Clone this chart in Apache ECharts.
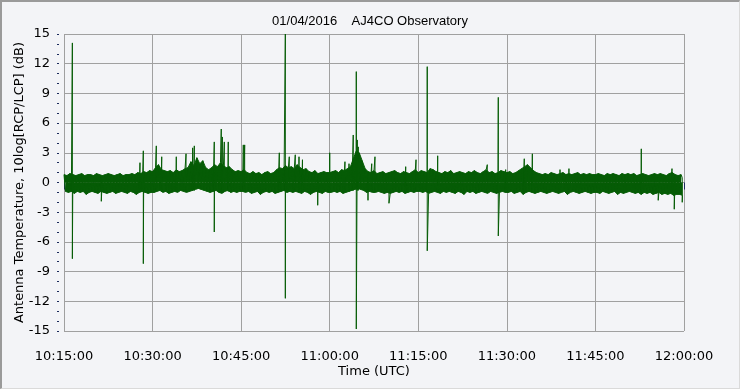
<!DOCTYPE html>
<html>
<head>
<meta charset="utf-8">
<script src="https://cdn.jsdelivr.net/npm/echarts@6/dist/echarts.min.js"></script>
<style>
html,body{margin:0;padding:0;background:#f3f4f7;}
#frame{position:absolute;left:0;top:0;width:740px;height:389px;box-sizing:border-box;border-top:2px solid #9a9a9a;border-left:2px solid #9a9a9a;border-right:1px solid #dadada;border-bottom:1px solid #dadada;}
#chart{position:absolute;left:0;top:0;width:740px;height:389px;}
</style>
</head>
<body>
<div id="frame"></div>
<div id="chart"></div>
<script>
// Title and axis texts
const titleText = '01/04/2016    AJ4CO Observatory';
const yName = 'Antenna Temperature, 10log[RCP/LCP] (dB)';
const xName = 'Time (UTC)';

// Time range (seconds since midnight UTC) and tick step
const startTime = '10:15:00';
const endTime = '12:00:00';
const tickStepSec = 900;
const bandStepSec = 30;

// Noise band envelope: upper and lower edge every 30 s (dB)
const bandHigh = [
  0.8,0.7,0.9,0.8,0.7,0.8,0.9,0.7,0.8,0.8,0.7,0.9,0.8,0.7,0.8,0.9,0.8,0.7,0.8,0.9,0.7,0.8,0.8,0.9,0.8,1.0,0.9,1.1,1.0,1.2,
  1.1,1.5,1.8,1.3,1.2,1.1,1.2,1.0,1.3,1.1,1.2,1.4,1.5,2.1,1.7,2.5,1.9,2.2,1.5,1.3,1.5,1.8,1.6,2.0,1.7,1.5,1.6,1.3,1.1,1.2,
  1.1,1.3,1.0,0.9,1.1,0.9,1.0,0.8,1.0,1.1,0.9,1.0,1.3,1.5,1.4,1.7,1.5,1.6,1.4,1.8,1.5,1.3,1.4,1.1,1.0,1.2,0.9,1.0,1.1,1.0,
  1.0,1.1,1.2,1.0,1.3,1.2,1.4,1.6,2.4,3.2,3.0,2.2,1.4,1.1,1.0,1.2,0.9,1.0,1.1,0.9,1.0,1.1,1.2,1.0,0.9,1.1,1.0,0.9,1.1,1.3,
  1.0,1.2,1.1,1.0,1.4,1.3,1.1,1.0,0.9,1.1,1.0,1.2,0.9,1.0,1.1,1.0,0.9,1.1,1.0,1.2,1.0,0.9,1.1,1.3,1.0,1.1,0.9,1.0,1.2,1.1,
  1.0,1.1,0.9,1.0,1.2,1.4,1.6,1.8,1.5,1.2,1.0,0.9,0.8,0.9,0.8,1.0,0.9,0.8,0.9,1.0,0.8,0.9,0.8,0.9,1.0,0.8,0.9,0.8,0.9,0.8,
  0.8,0.9,0.8,0.7,0.9,0.8,0.9,0.8,0.7,0.9,0.8,0.9,0.8,0.9,0.7,0.8,0.9,0.8,0.7,0.8,0.9,0.8,0.9,0.8,0.7,0.9,1.0,0.8,0.7,0.8
];
const bandLow = [
  -0.9,-1.0,-0.9,-1.1,-0.9,-1.0,-0.9,-1.2,-1.0,-0.9,-1.0,-1.1,-0.9,-1.0,-1.1,-1.0,-0.9,-1.1,-1.0,-0.9,-1.0,-1.1,-0.9,-1.0,-1.2,-1.0,-0.9,-1.0,-1.1,-1.0,
  -1.0,-0.9,-0.8,-1.0,-0.9,-1.1,-1.0,-0.9,-1.0,-0.8,-0.9,-1.0,-0.9,-0.8,-0.7,-0.6,-0.7,-0.8,-0.9,-1.0,-0.9,-0.8,-1.0,-1.1,-0.9,-0.8,-1.0,-0.9,-1.0,-0.9,
  -0.9,-1.0,-0.9,-1.1,-1.0,-0.9,-1.2,-1.0,-0.9,-1.0,-0.9,-1.1,-1.0,-0.9,-0.8,-1.0,-0.9,-1.0,-0.9,-1.0,-1.1,-0.9,-1.0,-1.2,-1.0,-0.9,-1.0,-1.1,-0.9,-1.0,
  -1.0,-0.9,-1.0,-0.9,-1.1,-1.0,-0.9,-0.8,-0.7,-0.6,-0.7,-0.8,-1.0,-0.9,-1.0,-1.0,-0.9,-1.0,-1.1,-1.0,-1.1,-1.0,-0.9,-1.0,-0.9,-1.1,-1.0,-0.9,-1.0,-0.9,
  -0.9,-1.0,-0.9,-1.1,-1.0,-0.9,-1.0,-1.1,-0.9,-1.0,-0.9,-1.0,-1.1,-0.9,-1.0,-1.2,-0.9,-1.0,-0.9,-1.1,-1.0,-0.9,-1.0,-1.1,-0.9,-1.0,-1.1,-1.0,-0.9,-1.0,
  -1.0,-0.9,-1.1,-1.0,-0.9,-1.2,-1.0,-0.9,-1.0,-1.1,-1.0,-0.9,-1.0,-1.1,-1.0,-0.9,-1.0,-1.1,-1.0,-0.9,-1.2,-1.0,-0.9,-1.0,-1.1,-1.0,-0.9,-1.0,-1.1,-1.0,
  -1.0,-1.1,-0.9,-1.0,-1.1,-1.0,-0.9,-1.2,-1.0,-1.1,-1.0,-0.9,-1.0,-1.1,-1.0,-1.2,-1.0,-1.1,-1.0,-1.2,-1.1,-1.0,-1.2,-1.1,-1.2,-1.1,-1.3,-1.2,-1.2,-1.3
];

// Individual spikes: time, peak (dB), trough (dB)
const spikeTimes = ['10:16:25','10:21:19','10:27:52','10:28:26','10:30:38','10:31:33','10:34:01','10:35:40','10:36:47','10:37:04','10:40:27','10:41:38','10:41:49','10:42:09','10:42:49','10:45:22','10:45:36','10:51:28','10:52:29','10:53:09','10:54:10','10:54:48','10:55:23','10:57:58','11:00:00','11:02:35','11:03:16','11:03:59','11:04:30','11:04:40','11:04:50','11:06:29','11:07:07','11:07:40','11:10:02','11:12:52','11:14:37','11:16:31','11:18:17','11:26:41','11:28:33','11:29:48','11:32:57','11:34:19','11:39:00','11:40:31','11:52:46','11:55:38','11:57:58','11:58:21','11:59:42'];
const spikeHigh  = [14.1, 0.5, 2.0, 3.2, 3.7, 2.6, 2.6, 2.9, 3.5, 3.7, 4.1, 5.4, 4.6, 4.1, 4.1, 3.8, 3.8, 3.0, 15.0, 2.6, 2.8, 2.6, 2.3, 0.5, 3.0, 2.1, 1.9, 4.8, 11.2, 4.3, 3.6, 0.5, 1.9, 2.6, 0.5, 1.6, 2.3, 11.7, 2.7, 1.8, 8.6, 1.3, 2.4, 2.9, 1.3, 1.4, 3.4, 0.5, 1.4, 0.5, 0.5];
const spikeLow   = [-7.7,-1.9,-0.9,-8.2,-0.8,-0.9,-0.9,-0.9,-0.8,-0.8,-5.0,-0.9,-0.9,-0.9,-0.9,-0.9,-0.9,-0.9,-11.7,-0.9,-0.9,-0.9,-0.9,-2.3,-0.9,-0.9,-0.9,-0.8,-14.8,-0.8,-0.8,-1.8,-0.9,-0.9,-2.1,-0.9,-0.9,-6.9,-0.9,-0.9,-5.4,-0.9,-0.9,-0.9,-0.9,-0.9,-0.9,-1.8,-0.9,-2.7,-2.0];

// Y axis range
const yMin = -15, yMax = 15, yStep = 3;

function toSec(s){const p=s.split(':').map(Number);return p[0]*3600+p[1]*60+p[2];}
function pad(n){return (n<10?'0':'')+n;}
function fmt(v){const h=Math.floor(v/3600),m=Math.floor((v%3600)/60),s=Math.round(v%60);return pad(h)+':'+pad(m)+':'+pad(s);}

const t0 = toSec(startTime), t1 = toSec(endTime);
const color = '#065c06';

// zig-zag trace through the band envelope plus the spikes
const pts = [];
for (let i=0;i<bandHigh.length;i++){
  const t = t0 + i*bandStepSec;
  pts.push([t, bandHigh[i]]);
  pts.push([t + bandStepSec/2, bandLow[i]]);
}
for (let i=0;i<spikeTimes.length;i++){
  const t = toSec(spikeTimes[i]);
  pts.push([t+0.001, spikeHigh[i]]);
  pts.push([t+0.002, spikeLow[i]]);
}
pts.sort((a,b)=>a[0]-b[0]);

// filled band: upper envelope filled down to 0, lower envelope filled up to 0
const hiData = [], loData = [];
for (let i=0;i<bandHigh.length;i++){
  hiData.push([t0 + i*bandStepSec, bandHigh[i]]);
  loData.push([t0 + i*bandStepSec + bandStepSec/2, bandLow[i]]);
}

const chart = echarts.init(document.getElementById('chart'), null, {renderer:'canvas'});
const axisFont = {fontFamily:'DejaVu Sans', fontSize:13, color:'#000'};
chart.setOption({
  animation:false,
  backgroundColor:'transparent',
  title:{text:titleText,left:'center',top:10,textStyle:{fontFamily:'Liberation Sans',fontSize:13,fontWeight:'normal',color:'#000'}},
  grid:{left:64,right:56,top:34,bottom:58,show:false},
  xAxis:{
    type:'value',min:t0,max:t1,interval:tickStepSec,
    offset:3,
    name:xName,nameLocation:'middle',nameGap:31,nameMoveOverlap:false,nameTextStyle:axisFont,
    axisLine:{show:false},
    axisTick:{show:true,length:7,lineStyle:{color:'#1c2c5c'}},
    minorTick:{show:true,splitNumber:6,length:3,lineStyle:{color:'#1c2c5c'}},
    axisLabel:Object.assign({formatter:fmt,margin:16},axisFont),
    splitLine:{show:true,lineStyle:{color:'#a0a0a0',width:1}}
  },
  yAxis:{
    type:'value',min:yMin,max:yMax,interval:yStep,
    offset:5,
    name:yName,nameLocation:'middle',nameGap:33,nameMoveOverlap:false,nameRotate:90,nameTextStyle:axisFont,
    axisLine:{show:false},
    axisTick:{show:true,length:2,lineStyle:{color:'#1c2c5c'}},
    minorTick:{show:true,splitNumber:3,length:2,lineStyle:{color:'#1c2c5c'}},
    axisLabel:Object.assign({margin:9},axisFont),
    splitLine:{show:true,lineStyle:{color:'#a0a0a0',width:1}}
  },
  series:[
    {type:'line',data:hiData,showSymbol:false,silent:true,sampling:'none',
     lineStyle:{color:color,width:1},areaStyle:{color:color,opacity:1,origin:0},itemStyle:{color:color}},
    {type:'line',data:loData,showSymbol:false,silent:true,sampling:'none',
     lineStyle:{color:color,width:1},areaStyle:{color:color,opacity:1,origin:0},itemStyle:{color:color}},
    {type:'line',data:pts,showSymbol:false,sampling:'none',clip:true,
     lineStyle:{color:color,width:1},itemStyle:{color:color}}
  ]
});
</script>
</body>
</html>
